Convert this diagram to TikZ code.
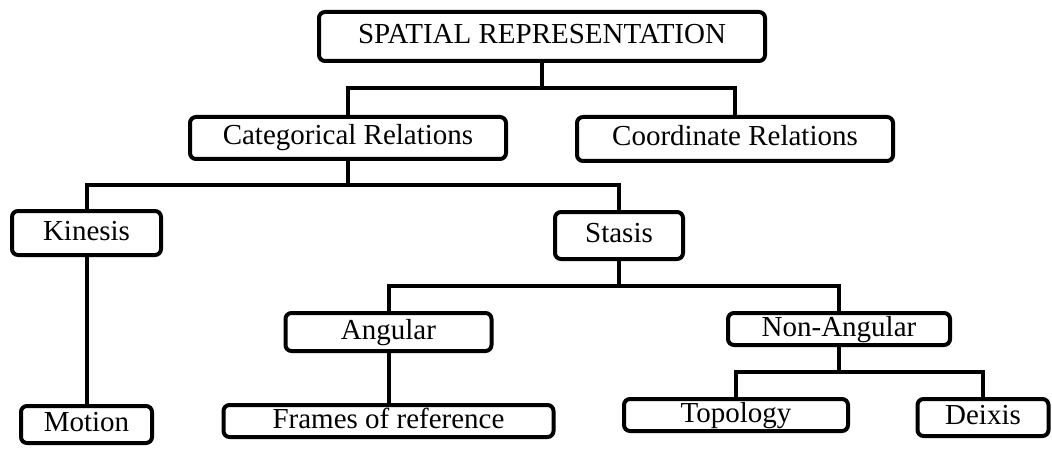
\documentclass[tikz,border=0pt]{standalone}
\usepackage{fontspec}
\setmainfont{Liberation Serif}
\usepackage{tikz}
\tikzset{
  box/.style={draw, line width=3pt, rounded corners=4.5pt, inner sep=0pt,
    font=\fontsize{21.75}{26}\selectfont, text height=14.5pt, text depth=4pt},
  bw/.style={minimum width=#1*0.75pt},
  bh/.style={minimum height=#1*0.75pt},
  link/.style={line width=3pt}
}

\begin{document}
\begin{tikzpicture}[x=0.75pt, y=-0.75pt]
	\useasboundingbox (0,0) rectangle (1052,449);
	%BOXES
	\node[box, bw=446, bh=49] (spatial) at (542,36.5) {SPATIAL REPRESENTATION};
	\node[box, bw=316, bh=42] (cat) at (348,138) {Categorical Relations};
	\node[box, bw=316, bh=44] (coord) at (735,139) {Coordinate Relations};
	\node[box, bw=149, bh=44] (kinesis) at (86.5,233) {Kinesis};
	\node[box, bw=128, bh=47] (stasis) at (619,235.5) {Stasis};
	\node[box, bw=206, bh=38] (angular) at (388.5,332) {Angular};
	\node[box, bw=222, bh=32] (nonang) at (839,329) {Non-Angular};
	\node[box, bw=131, bh=37] (motion) at (86.5,424.5) {Motion};
	\node[box, bw=330, bh=32] (frames) at (388.5,421) {Frames of reference};
	\node[box, bw=224, bh=32] (topology) at (736,415) {Topology};
	\node[box, bw=131, bh=37] (deixis) at (983,417.5) {Deixis};

	%JUNCTIONS
	\coordinate (spbar) at (542,88);
	\coordinate (catbar) at (348,185);
	\coordinate (stbar) at (619,286);
	\coordinate (nabar) at (839,372);

	%LINES
	\draw[link] (spatial.south) -- (spbar);
	\draw[link] (cat.north) |- (spbar) -| (coord.north);
	\draw[link] (cat.south) -- (catbar);
	\draw[link] (kinesis.north) |- (catbar) -| (stasis.north);
	\draw[link] (kinesis) -- (motion);
	\draw[link] (stasis.south) -- (stbar);
	\draw[link] (angular.north) |- (stbar) -| (nonang.north);
	\draw[link] (angular) -- (frames);
	\draw[link] (nonang.south) -- (nabar);
	\draw[link] (topology.north) |- (nabar) -| (deixis.north);
\end{tikzpicture}
\end{document}
